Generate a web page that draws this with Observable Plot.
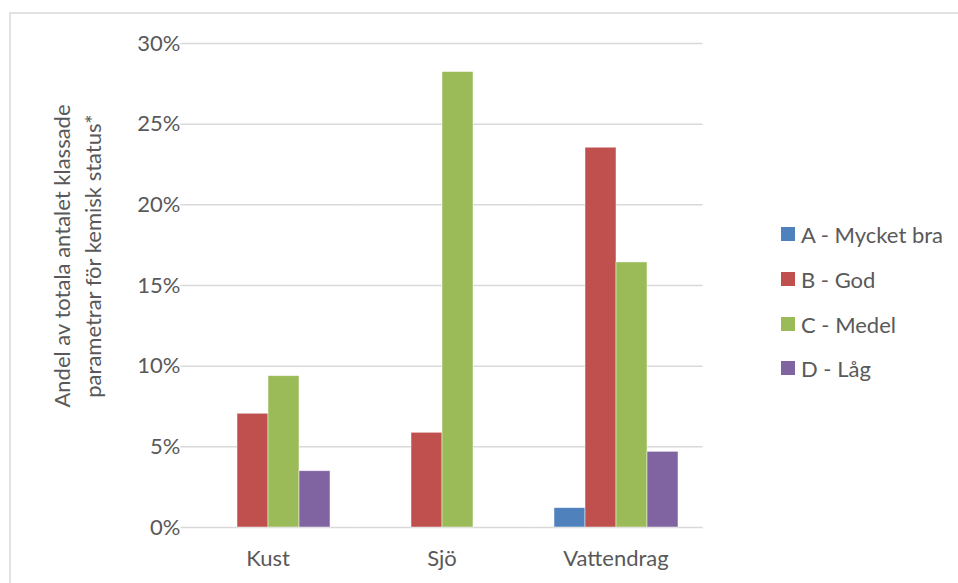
<!DOCTYPE html>
<html>
<head>
<meta charset="utf-8">
<script src="https://cdn.jsdelivr.net/npm/d3@7"></script>
<script src="https://cdn.jsdelivr.net/npm/@observablehq/plot@0.6"></script>
<style>
  html, body { margin: 0; padding: 0; background: #fff; }
  #wrap { position: relative; width: 958px; height: 583px; overflow: hidden; font-family: Lato, "Open Sans", sans-serif; }
  #frame { position: absolute; left: 9px; top: 12px; width: 960px; height: 600px;
           border-top: 2px solid #e2e2e2; border-left: 2px solid #e2e2e2; box-sizing: border-box; }
  #chart { position: absolute; left: 0; top: 0; }
  #legend { position: absolute; left: 781px; top: 0; color: #595959; font-size: 22px; }
  .item { position: absolute; left: 0; white-space: nowrap; display: flex; align-items: center; height: 26px; }
  .sw { width: 14px; height: 14px; margin-right: 6px; display: inline-block; }
</style>
</head>
<body>
<div id="wrap">
  <div id="frame"></div>
  <div id="chart"></div>
  <div id="legend"></div>
</div>
<script>
// Water body types and status classes
const categories = ["Kust", "Sjö", "Vattendrag"];
const classes = ["A - Mycket bra", "B - God", "C - Medel", "D - Låg"];
const colors = ["#4F81BD", "#C0504D", "#9BBB59", "#8064A2"];

// Share of all classified parameters, per class, for each water body type
const valuesA = [0.000, 0.000, 0.012];
const valuesB = [0.0705, 0.0587, 0.2354];
const valuesC = [0.0938, 0.2823, 0.1643];
const valuesD = [0.0349, 0.000, 0.0469];

const yTicks = [0, 0.05, 0.10, 0.15, 0.20, 0.25, 0.30];
const yTitle = ["Andel av totala antalet klassade", "parametrar för kemisk status*"];

const series = [valuesA, valuesB, valuesC, valuesD];
const data = [];
categories.forEach((cat, i) => {
  classes.forEach((cls, j) => {
    data.push({category: cat, klass: cls, value: series[j][i]});
  });
});

const textColor = "#595959";
const fontFamily = "Lato, 'Open Sans', sans-serif";
const width = 958, marginLeft = 180, marginRight = 255;
const gap = 0.271;
// half the gap between groups, so grid lines run on through the gaps
const step = (width - marginLeft - marginRight) / categories.length;
const halfGap = step * gap / 2;

const plot = Plot.plot({
  width,
  height: 583,
  marginLeft,
  marginRight,
  marginTop: 43,
  marginBottom: 56,
  style: {fontFamily, fontSize: "22px", color: textColor, background: "transparent"},
  fx: {domain: categories, paddingInner: gap, paddingOuter: gap / 2, axis: "bottom", label: null, tickSize: 0, tickPadding: 23},
  x: {domain: classes, padding: 0, axis: null},
  y: {domain: [0, 0.30], ticks: yTicks, tickFormat: d3.format(".0%"), tickSize: 0, tickPadding: 24, label: null},
  color: {domain: classes, range: colors},
  marks: [
    Plot.ruleY(yTicks, {y: d => d, stroke: "#d9d9d9", strokeWidth: 1.5, insetLeft: -halfGap, insetRight: -halfGap}),
    Plot.barY(data, {fx: "category", x: "klass", y: "value", fill: "klass", stroke: "#ffffff", strokeOpacity: 0.6, strokeWidth: 0.8})
  ]
});
document.getElementById("chart").appendChild(plot);

// Two-line rotated y axis title
const svg = d3.select(plot.tagName.toLowerCase() === "svg" ? plot : plot.querySelector("svg"));
const title = svg.append("text")
  .attr("transform", "translate(78,256) rotate(-90)")
  .attr("text-anchor", "middle")
  .attr("fill", textColor)
  .style("font-family", fontFamily)
  .style("font-size", "22px");
yTitle.forEach((line, i) => {
  title.append("tspan").attr("x", 0).attr("dy", i === 0 ? "-0.35em" : "1.4em").text(line);
});

// Legend
const legend = document.getElementById("legend");
const rowCenters = [234, 279, 324, 368];
classes.forEach((cls, i) => {
  const item = document.createElement("div");
  item.className = "item";
  item.style.top = (rowCenters[i] - 13) + "px";
  const sw = document.createElement("span");
  sw.className = "sw";
  sw.style.background = colors[i];
  item.appendChild(sw);
  item.appendChild(document.createTextNode(cls));
  legend.appendChild(item);
});
</script>
</body>
</html>
